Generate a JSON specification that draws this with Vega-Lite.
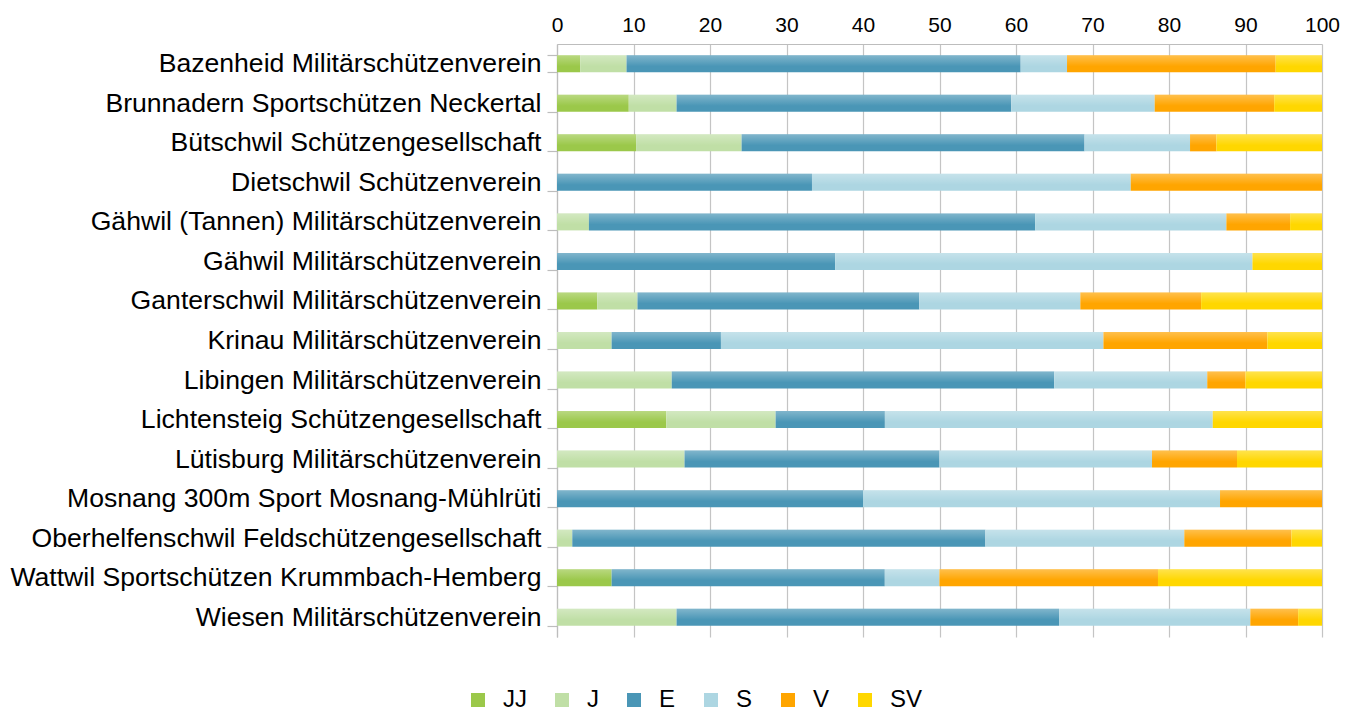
{
  "$schema": "https://vega.github.io/schema/vega-lite/v6.json",
  "width": 765,
  "height": 593,
  "autosize": {"type": "none"},
  "padding": {"left": 557, "top": 44, "right": 32, "bottom": 74},
  "background": "white",
  "datasets": {
    "rows": [
      {"c": "Bazenheid Militärschützenverein", "g": "JJ", "p": 3.03},
      {"c": "Bazenheid Militärschützenverein", "g": "J", "p": 6.06},
      {"c": "Bazenheid Militärschützenverein", "g": "E", "p": 51.52},
      {"c": "Bazenheid Militärschützenverein", "g": "S", "p": 6.06},
      {"c": "Bazenheid Militärschützenverein", "g": "V", "p": 27.27},
      {"c": "Bazenheid Militärschützenverein", "g": "SV", "p": 6.06},
      {"c": "Brunnadern Sportschützen Neckertal", "g": "JJ", "p": 9.38},
      {"c": "Brunnadern Sportschützen Neckertal", "g": "J", "p": 6.25},
      {"c": "Brunnadern Sportschützen Neckertal", "g": "E", "p": 43.75},
      {"c": "Brunnadern Sportschützen Neckertal", "g": "S", "p": 18.75},
      {"c": "Brunnadern Sportschützen Neckertal", "g": "V", "p": 15.62},
      {"c": "Brunnadern Sportschützen Neckertal", "g": "SV", "p": 6.25},
      {"c": "Bütschwil Schützengesellschaft", "g": "JJ", "p": 10.34},
      {"c": "Bütschwil Schützengesellschaft", "g": "J", "p": 13.79},
      {"c": "Bütschwil Schützengesellschaft", "g": "E", "p": 44.83},
      {"c": "Bütschwil Schützengesellschaft", "g": "S", "p": 13.79},
      {"c": "Bütschwil Schützengesellschaft", "g": "V", "p": 3.45},
      {"c": "Bütschwil Schützengesellschaft", "g": "SV", "p": 13.8},
      {"c": "Dietschwil Schützenverein", "g": "E", "p": 33.33},
      {"c": "Dietschwil Schützenverein", "g": "S", "p": 41.67},
      {"c": "Dietschwil Schützenverein", "g": "V", "p": 25},
      {"c": "Gähwil (Tannen) Militärschützenverein", "g": "J", "p": 4.17},
      {"c": "Gähwil (Tannen) Militärschützenverein", "g": "E", "p": 58.33},
      {"c": "Gähwil (Tannen) Militärschützenverein", "g": "S", "p": 25},
      {"c": "Gähwil (Tannen) Militärschützenverein", "g": "V", "p": 8.33},
      {"c": "Gähwil (Tannen) Militärschützenverein", "g": "SV", "p": 4.17},
      {"c": "Gähwil Militärschützenverein", "g": "E", "p": 36.36},
      {"c": "Gähwil Militärschützenverein", "g": "S", "p": 54.55},
      {"c": "Gähwil Militärschützenverein", "g": "SV", "p": 9.09},
      {"c": "Ganterschwil Militärschützenverein", "g": "JJ", "p": 5.26},
      {"c": "Ganterschwil Militärschützenverein", "g": "J", "p": 5.26},
      {"c": "Ganterschwil Militärschützenverein", "g": "E", "p": 36.84},
      {"c": "Ganterschwil Militärschützenverein", "g": "S", "p": 21.05},
      {"c": "Ganterschwil Militärschützenverein", "g": "V", "p": 15.79},
      {"c": "Ganterschwil Militärschützenverein", "g": "SV", "p": 15.8},
      {"c": "Krinau Militärschützenverein", "g": "J", "p": 7.14},
      {"c": "Krinau Militärschützenverein", "g": "E", "p": 14.29},
      {"c": "Krinau Militärschützenverein", "g": "S", "p": 50},
      {"c": "Krinau Militärschützenverein", "g": "V", "p": 21.43},
      {"c": "Krinau Militärschützenverein", "g": "SV", "p": 7.14},
      {"c": "Libingen Militärschützenverein", "g": "J", "p": 15},
      {"c": "Libingen Militärschützenverein", "g": "E", "p": 50},
      {"c": "Libingen Militärschützenverein", "g": "S", "p": 20},
      {"c": "Libingen Militärschützenverein", "g": "V", "p": 5},
      {"c": "Libingen Militärschützenverein", "g": "SV", "p": 10},
      {"c": "Lichtensteig Schützengesellschaft", "g": "JJ", "p": 14.29},
      {"c": "Lichtensteig Schützengesellschaft", "g": "J", "p": 14.29},
      {"c": "Lichtensteig Schützengesellschaft", "g": "E", "p": 14.28},
      {"c": "Lichtensteig Schützengesellschaft", "g": "S", "p": 42.86},
      {"c": "Lichtensteig Schützengesellschaft", "g": "SV", "p": 14.28},
      {"c": "Lütisburg Militärschützenverein", "g": "J", "p": 16.67},
      {"c": "Lütisburg Militärschützenverein", "g": "E", "p": 33.33},
      {"c": "Lütisburg Militärschützenverein", "g": "S", "p": 27.78},
      {"c": "Lütisburg Militärschützenverein", "g": "V", "p": 11.11},
      {"c": "Lütisburg Militärschützenverein", "g": "SV", "p": 11.11},
      {"c": "Mosnang 300m Sport Mosnang-Mühlrüti", "g": "E", "p": 40},
      {"c": "Mosnang 300m Sport Mosnang-Mühlrüti", "g": "S", "p": 46.67},
      {"c": "Mosnang 300m Sport Mosnang-Mühlrüti", "g": "V", "p": 13.33},
      {"c": "Oberhelfenschwil Feldschützengesellschaft", "g": "J", "p": 2},
      {"c": "Oberhelfenschwil Feldschützengesellschaft", "g": "E", "p": 54},
      {"c": "Oberhelfenschwil Feldschützengesellschaft", "g": "S", "p": 26},
      {"c": "Oberhelfenschwil Feldschützengesellschaft", "g": "V", "p": 14},
      {"c": "Oberhelfenschwil Feldschützengesellschaft", "g": "SV", "p": 4},
      {"c": "Wattwil Sportschützen Krummbach-Hemberg", "g": "JJ", "p": 7.14},
      {"c": "Wattwil Sportschützen Krummbach-Hemberg", "g": "E", "p": 35.71},
      {"c": "Wattwil Sportschützen Krummbach-Hemberg", "g": "S", "p": 7.14},
      {"c": "Wattwil Sportschützen Krummbach-Hemberg", "g": "V", "p": 28.57},
      {"c": "Wattwil Sportschützen Krummbach-Hemberg", "g": "SV", "p": 21.44},
      {"c": "Wiesen Militärschützenverein", "g": "J", "p": 15.63},
      {"c": "Wiesen Militärschützenverein", "g": "E", "p": 50},
      {"c": "Wiesen Militärschützenverein", "g": "S", "p": 25},
      {"c": "Wiesen Militärschützenverein", "g": "V", "p": 6.25},
      {"c": "Wiesen Militärschützenverein", "g": "SV", "p": 3.12}
    ],
    "cats": [
      {"g": "JJ", "o": 1},
      {"g": "J", "o": 2},
      {"g": "E", "o": 3},
      {"g": "S", "o": 4},
      {"g": "V", "o": 5},
      {"g": "SV", "o": 6}
    ]
  },
  "data": {"name": "rows"},
  "transform": [
    {"lookup": "g", "from": {"data": {"name": "cats"}, "key": "g", "fields": ["o"]}}
  ],
  "encoding": {
    "y": {
      "field": "c",
      "type": "nominal",
      "sort": null,
      "title": null,
      "scale": {"paddingInner": 0.57, "paddingOuter": 0.285},
      "axis": {
        "labelFontSize": 26.6,
        "labelColor": "#000000",
        "labelLimit": 600,
        "ticks": true,
        "tickBand": "extent",
        "tickSize": 10,
        "tickColor": "#BDBDBD",
        "tickWidth": 1.2,
        "domainColor": "#BDBDBD",
        "domainWidth": 1.2,
        "labelPadding": 6,
        "grid": false
      }
    },
    "x": {
      "field": "p",
      "type": "quantitative",
      "stack": "zero",
      "title": null,
      "scale": {"domain": [0, 100], "nice": false},
      "axis": {
        "orient": "top",
        "values": [0, 10, 20, 30, 40, 50, 60, 70, 80, 90, 100],
        "grid": true,
        "gridColor": "#C4C4C4",
        "gridWidth": 1.2,
        "ticks": false,
        "labelFontSize": 21,
        "labelColor": "#000000",
        "labelPadding": 9,
        "labelFlush": false,
        "domainColor": "#BDBDBD",
        "domainWidth": 1.2
      }
    },
    "order": {"field": "o", "type": "quantitative"}
  },
  "layer": [
    {
      "mark": {"type": "bar", "strokeWidth": 0},
      "encoding": {
        "color": {
          "field": "g",
          "type": "nominal",
          "scale": {
            "domain": ["JJ", "J", "E", "S", "V", "SV"],
            "range": ["#9BC84A", "#C0DFA6", "#4A96B6", "#ADD6E2", "#FFA500", "#FFD700"]
          },
          "legend": {
            "orient": "none",
            "legendX": -91,
            "legendY": 644,
            "direction": "horizontal",
            "title": null,
            "symbolType": "square",
            "symbolSize": 196,
            "symbolStrokeWidth": 0,
            "labelFontSize": 24,
            "labelColor": "#000000",
            "labelOffset": 13,
            "columnPadding": 23
          }
        }
      }
    },
    {
      "mark": {
        "type": "bar",
        "strokeWidth": 0,
        "fill": {
          "gradient": "linear",
          "x1": 0, "y1": 0, "x2": 0, "y2": 1,
          "stops": [
            {"offset": 0, "color": "rgba(255,255,255,0.3)"},
            {"offset": 0.65, "color": "rgba(255,255,255,0)"},
            {"offset": 1, "color": "rgba(255,255,255,0)"}
          ]
        }
      },
      "encoding": {"detail": {"field": "g", "type": "nominal"}}
    }
  ],
  "config": {
    "view": {"stroke": null},
    "font": "Liberation Sans"
  }
}
